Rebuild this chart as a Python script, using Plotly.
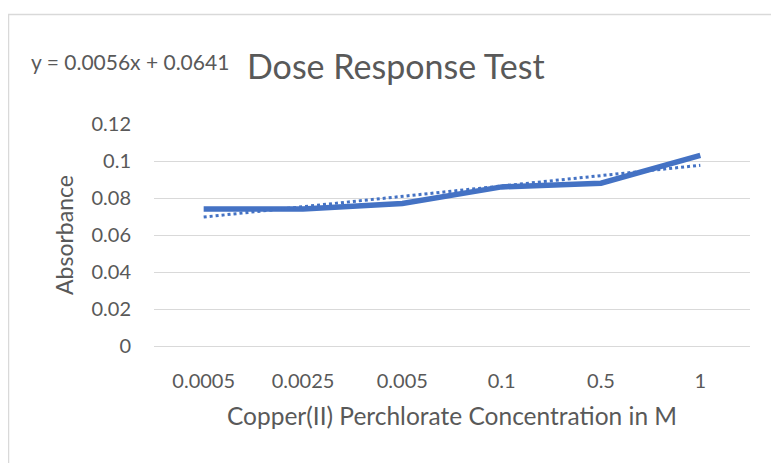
import plotly.graph_objects as go

categories = ["0.0005", "0.0025", "0.005", "0.1", "0.5", "1"]
absorbance = [0.074, 0.074, 0.077, 0.086, 0.088, 0.103]
trendline = [0.0697, 0.0753, 0.0809, 0.0865, 0.0921, 0.0977]
y_ticks = [0, 0.02, 0.04, 0.06, 0.08, 0.1, 0.12]
y_tick_labels = ["0", "0.02", "0.04", "0.06", "0.08", "0.1", "0.12"]

FONT = "Lato"
GREY = "#595959"
BLUE = "#4472C4"

OFF = 8  # page body margin
W, H = 779 - OFF, 463 - OFF
L, R, T, B = 154 - OFF, 29, 124 - OFF, 117
pw, ph = W - L - R, H - T - B

def px(x):
    return (x - OFF - L) / pw

def py(y):
    return (H - B - (y - OFF)) / ph

fig = go.Figure()
fig.add_trace(go.Scatter(x=categories, y=absorbance, mode="lines",
                         line=dict(color=BLUE, width=5.5), hoverinfo="skip"))
fig.add_trace(go.Scatter(x=categories, y=trendline, mode="lines",
                         line=dict(color=BLUE, width=3, dash="dot"), hoverinfo="skip"))

fig.update_layout(
    width=W, height=H,
    margin=dict(l=L, r=R, t=T, b=B),
    paper_bgcolor="white", plot_bgcolor="white",
    showlegend=False,
    font=dict(family=FONT, color=GREY),
    xaxis=dict(type="category", range=[-0.5, 5.5], showgrid=False,
               showline=True, linecolor="#d9d9d9", linewidth=1,
               ticks="outside", ticklen=17, tickcolor="rgba(0,0,0,0)",
               tickfont=dict(size=20, color=GREY, family=FONT),
               title=dict(text="Copper(II) Perchlorate Concentration in M",
                          font=dict(size=24.5, color=GREY, family=FONT), standoff=16)),
    yaxis=dict(range=[0, 0.12], tickvals=y_ticks, ticktext=y_tick_labels,
               showgrid=True, gridcolor="#d9d9d9", gridwidth=1, zeroline=False,
               showline=False,
               ticks="outside", ticklen=18, tickcolor="rgba(0,0,0,0)",
               tickfont=dict(size=20, color=GREY, family=FONT),
               title=dict(text="Absorbance", font=dict(size=23, color=GREY, family=FONT),
                          standoff=11)),
    annotations=[
        dict(text="Dose Response Test", xref="paper", yref="paper",
             x=px(396), y=py(65), xanchor="center", yanchor="middle",
             showarrow=False, font=dict(size=34, color=GREY, family=FONT)),
        dict(text="y = 0.0056x + 0.0641", xref="paper", yref="paper",
             x=px(29), y=py(62), xanchor="left", yanchor="middle",
             showarrow=False, font=dict(size=21, color=GREY, family=FONT)),
    ],
    shapes=[
        dict(type="line", xref="paper", yref="paper", x0=px(8.5), x1=px(8.5),
             y0=py(14), y1=py(480), line=dict(color="#d9d9d9", width=1.5)),
        dict(type="line", xref="paper", yref="paper", x0=px(8), x1=px(790),
             y0=py(14.5), y1=py(14.5), line=dict(color="#d9d9d9", width=1.5)),
    ],
)

fig.write_html("out.html")
